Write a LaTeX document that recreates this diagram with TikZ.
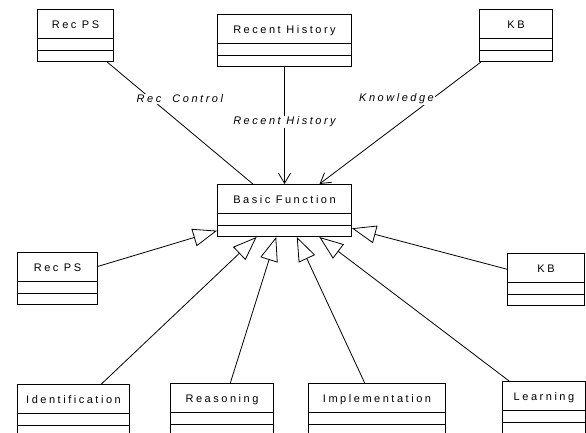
\documentclass[tikz,border=0pt]{standalone}
\usepackage{fontspec}
\newfontfamily\umlfont[LetterSpace=23]{Liberation Sans}
\usepackage{tikz}
\usetikzlibrary{shapes.multipart, arrows.meta}

% header compartment of a class box
\newcommand{\hd}{\rule[-10pt]{0pt}{28pt}}

\begin{document}
\begin{tikzpicture}[
    x=1pt, y=-1pt,
    umlclass/.style={draw, line width=1pt, rectangle split, rectangle split parts=3,
        rectangle split empty part height=10.5pt, inner ysep=0pt, inner xsep=2pt,
        anchor=north west, font=\umlfont\fontsize{11}{13}\selectfont},
    assoc/.style={line width=0.8pt},
    navi/.style={assoc, -{Straight Barb[length=10pt, width=12pt]}},
    inherit/.style={assoc, -{Triangle[open, length=24pt, width=18pt]}},
    lbl/.style={fill=white, inner sep=1pt, font=\umlfont\fontsize{11}{13}\selectfont\itshape}
]
    \useasboundingbox (0,0) rectangle (586,432);

    % top row
    \node[umlclass, minimum width=76pt] (recpsA) at (37,9) {\hd Rec\ PS\nodepart{second}\nodepart{third}};
    \node[umlclass, minimum width=134pt] (hist) at (217,14) {\hd Recent History\nodepart{second}\nodepart{third}};
    \node[umlclass, minimum width=73pt] (kbA) at (479,9) {\hd KB\nodepart{second}\nodepart{third}};

    % centre
    \node[umlclass, minimum width=134pt] (basic) at (217,184) {\hd Basic Function\nodepart{second}\nodepart{third}};

    % sides
    \node[umlclass, minimum width=80pt] (recpsB) at (17,252) {\hd Rec\ PS\nodepart{second}\nodepart{third}};
    \node[umlclass, minimum width=77pt] (kbB) at (507,253) {\hd KB\nodepart{second}\nodepart{third}};

    % bottom row
    \node[umlclass, minimum width=112pt] (ident) at (17,384) {\hd Identification\nodepart{second}\nodepart{third}};
    \node[umlclass, minimum width=103pt] (reason) at (170,383) {\hd Reasoning\nodepart{second}\nodepart{third}};
    \node[umlclass, minimum width=137pt] (impl) at (308,383) {\hd Implementation\nodepart{second}\nodepart{third}};
    \node[umlclass, minimum width=83pt] (learn) at (502,381) {\hd Learning\nodepart{second}\nodepart{third}};

    % associations
    \draw[assoc] (recpsA) -- node[lbl, pos=0.3, xshift=29pt] (lblrec) {Rec\ \ Control} (basic);
    \draw[navi] (hist) -- node[lbl, pos=0.47] (lblhist) {Recent History} (basic);
    \draw[navi] (kbA) -- node[lbl, pos=0.3, xshift=-36pt] (lblkb) {Knowledge} (basic);

    % generalizations
    \foreach \c in {recpsB, ident, reason, impl, learn, kbB}
        \draw[inherit] (\c) -- (basic);
\end{tikzpicture}
\end{document}
